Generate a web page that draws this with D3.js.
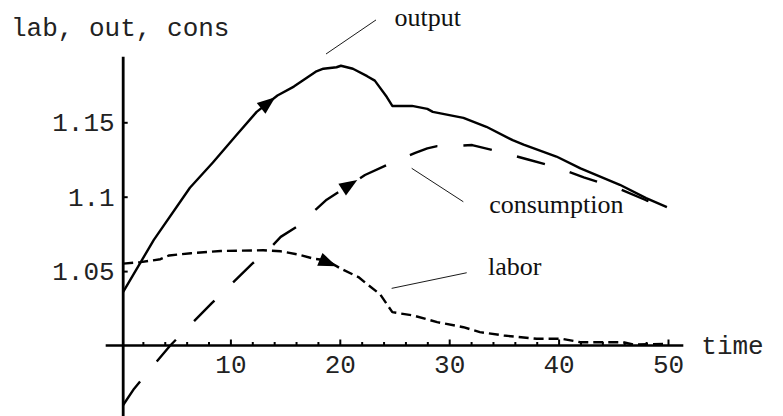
<!DOCTYPE html>
<html>
<head>
<meta charset="utf-8">
<script src="https://cdn.jsdelivr.net/npm/d3@7"></script>
<style>
  html, body { margin: 0; padding: 0; background: #fff; }
  svg { display: block; }
</style>
</head>
<body>
<svg id="chart" width="783" height="416"></svg>
<script>
// ---- data ----
const outputTime = [0.2, 3, 6.3, 8.4, 10.5, 12.4, 14.3, 15.8, 17.8, 18.5, 19.7, 20.1, 21.2, 22.5, 23.2, 24.3, 24.8, 26.6, 28, 28.5, 31.3, 33.4, 35.8, 36.8, 39.8, 42, 45.6, 48, 49.9];
const outputValues = [1.036, 1.071, 1.106, 1.123, 1.141, 1.157, 1.168, 1.174, 1.184, 1.186, 1.187, 1.188, 1.186, 1.181, 1.178, 1.167, 1.161, 1.161, 1.159, 1.157, 1.153, 1.147, 1.138, 1.135, 1.127, 1.119, 1.108, 1.099, 1.093];

const consTime = [0.2, 1.2, 2.9, 4.5, 6.5, 8.3, 10.2, 12, 13.7, 14.6, 16.1, 17.9, 18.8, 22.3, 24.8, 26.9, 28, 28.9, 29.8, 32.1, 34.7, 37.2, 39.8, 42.3, 45.5, 48, 49.9];
const consValues = [0.96, 0.971, 0.986, 1.0, 1.015, 1.0285, 1.042, 1.055, 1.066, 1.073, 1.08, 1.092, 1.098, 1.1146, 1.123, 1.1295, 1.1325, 1.134, 1.134, 1.1347, 1.130, 1.125, 1.1197, 1.113, 1.1055, 1.0976, 1.0931];

const laborTime = [0.2, 1.8, 3.6, 4.4, 6.4, 9.1, 13, 14.6, 16.1, 17.6, 18.8, 20.1, 21.7, 22.4, 23.7, 24.8, 26.7, 28.9, 31.3, 32.8, 35, 38, 40.3, 42, 45.9, 46.8, 49.9];
const laborValues = [1.055, 1.056, 1.058, 1.0605, 1.062, 1.0635, 1.064, 1.0633, 1.0613, 1.0584, 1.0572, 1.0516, 1.046, 1.0418, 1.0343, 1.0224, 1.0202, 1.0157, 1.0123, 1.009, 1.0067, 1.0045, 1.0045, 1.0022, 1.0022, 1.0007, 1.0011];

const xMajorTicks = [10, 20, 30, 40, 50];
const xMinorTicks = [2, 4, 6, 8, 12, 14, 16, 18, 22, 24, 26, 28, 32, 34, 36, 38, 42, 44, 46, 48];
const yTicks = [1.05, 1.1, 1.15];
const yTickLabels = ["1.05", "1.1", "1.15"];

const seriesNames = ["output", "consumption", "labor"];
const arrowTimes = [14.1, 21.6, 19.7];
// annotation pointer lines and label anchors, in data units
const pointerFrom = [[18.74, 1.1959], [26.57, 1.1191], [24.74, 1.0384]];
const pointerTo = [[23.31, 1.2188], [31.29, 1.0966], [31.6, 1.0489]];
const labelAt = [[25.0, 1.2147], [33.65, 1.0888], [33.55, 1.0474]];

const yAxisTitle = "lab, out, cons";
const xAxisTitle = "time";

// ---- drawing ----
const svg = d3.select("#chart");
svg.append("rect").attr("width", 783).attr("height", 416).attr("fill", "#fff");

const x = d3.scaleLinear().domain([0, 50]).range([121, 668]);
const y = d3.scaleLinear().domain([1, 1.15]).range([345.5, 122.3]);

const monoFont = "'Liberation Mono', 'Courier New', monospace";
const serifFont = "'Liberation Serif', 'Times New Roman', serif";
const yAxisT = 0.2;

// X axis (major + minor ticks pointing up)
const xAxisG = svg.append("g").attr("transform", `translate(0,${y(1)})`);
xAxisG.call(d3.axisBottom(x).tickValues(xMajorTicks).tickSize(-6).tickPadding(9.5).tickFormat(d3.format("d")));
const xMinorG = svg.append("g").attr("transform", `translate(0,${y(1)})`);
xMinorG.call(d3.axisBottom(x).tickValues(xMinorTicks).tickSize(-3.5).tickFormat(""));
[xAxisG, xMinorG].forEach(g => {
  g.select(".domain").remove();
  g.selectAll(".tick line").attr("stroke", "#000").attr("stroke-width", 2);
});
xAxisG.selectAll("text").attr("font-family", monoFont).attr("font-size", 26).attr("fill", "#222");

svg.append("line")
  .attr("x1", x(-1.4)).attr("x2", x(51.4))
  .attr("y1", y(1)).attr("y2", y(1))
  .attr("stroke", "#000").attr("stroke-width", 2.6);

// Y axis (ticks pointing right, labels left)
const yAxisG = svg.append("g").attr("transform", `translate(${x(yAxisT)},0)`);
yAxisG.call(d3.axisLeft(y).tickValues(yTicks).tickSize(-4.5).tickPadding(8.5)
  .tickFormat((d, i) => yTickLabels[i]));
yAxisG.select(".domain").remove();
yAxisG.selectAll(".tick line").attr("stroke", "#000").attr("stroke-width", 2);
yAxisG.selectAll("text").attr("font-family", monoFont).attr("font-size", 26).attr("fill", "#222");

svg.append("line")
  .attr("x1", x(yAxisT)).attr("x2", x(yAxisT))
  .attr("y1", y(1.194)).attr("y2", y(0.945))
  .attr("stroke", "#000").attr("stroke-width", 2.8);

// axis titles
svg.append("text").attr("x", 11).attr("y", 36)
  .attr("font-family", monoFont).attr("font-size", 26).attr("fill", "#222")
  .text(yAxisTitle);
svg.append("text").attr("x", x(51.4) + 18).attr("y", y(1) + 8.5)
  .attr("font-family", monoFont).attr("font-size", 26).attr("fill", "#222")
  .text(xAxisTitle);

// curves
const line = d3.line().x(d => x(d[0])).y(d => y(d[1]));
const series = [
  { t: outputTime, v: outputValues, dash: null },
  { t: consTime, v: consValues, dash: "29,26" },
  { t: laborTime, v: laborValues, dash: "10,5" }
];
series.forEach(s => {
  const pts = s.t.map((t, i) => [t, s.v[i]]);
  const p = svg.append("path").datum(pts)
    .attr("d", line)
    .attr("fill", "none")
    .attr("stroke", "#000")
    .attr("stroke-width", 2.4)
    .attr("stroke-linejoin", "round");
  if (s.dash) p.attr("stroke-dasharray", s.dash);
});

// arrowheads on the curves
function valueAt(ts, vs, t) {
  for (let i = 0; i < ts.length - 1; i++) {
    if (t >= ts[i] && t <= ts[i + 1]) {
      const f = (t - ts[i]) / (ts[i + 1] - ts[i]);
      return vs[i] + f * (vs[i + 1] - vs[i]);
    }
  }
  return vs[vs.length - 1];
}
series.forEach((s, i) => {
  const tt = arrowTimes[i];
  const tip = [x(tt), y(valueAt(s.t, s.v, tt))];
  const back = [x(tt - 1.5), y(valueAt(s.t, s.v, tt - 1.5))];
  let dx = tip[0] - back[0], dy = tip[1] - back[1];
  const L = Math.hypot(dx, dy); dx /= L; dy /= L;
  const len = 18, hw = 7;
  const bx = tip[0] - len * dx, by = tip[1] - len * dy;
  const pts = [tip, [bx - hw * dy, by + hw * dx], [bx + hw * dy, by - hw * dx]];
  svg.append("polygon").attr("points", pts.map(p => p.join(",")).join(" ")).attr("fill", "#000");
});

// annotations
seriesNames.forEach((name, i) => {
  svg.append("line")
    .attr("x1", x(pointerFrom[i][0])).attr("y1", y(pointerFrom[i][1]))
    .attr("x2", x(pointerTo[i][0])).attr("y2", y(pointerTo[i][1]))
    .attr("stroke", "#000").attr("stroke-width", 0.9);
  svg.append("text")
    .attr("x", x(labelAt[i][0])).attr("y", y(labelAt[i][1]))
    .attr("font-family", serifFont).attr("font-size", 26).attr("fill", "#111")
    .text(name);
});
</script>
</body>
</html>
